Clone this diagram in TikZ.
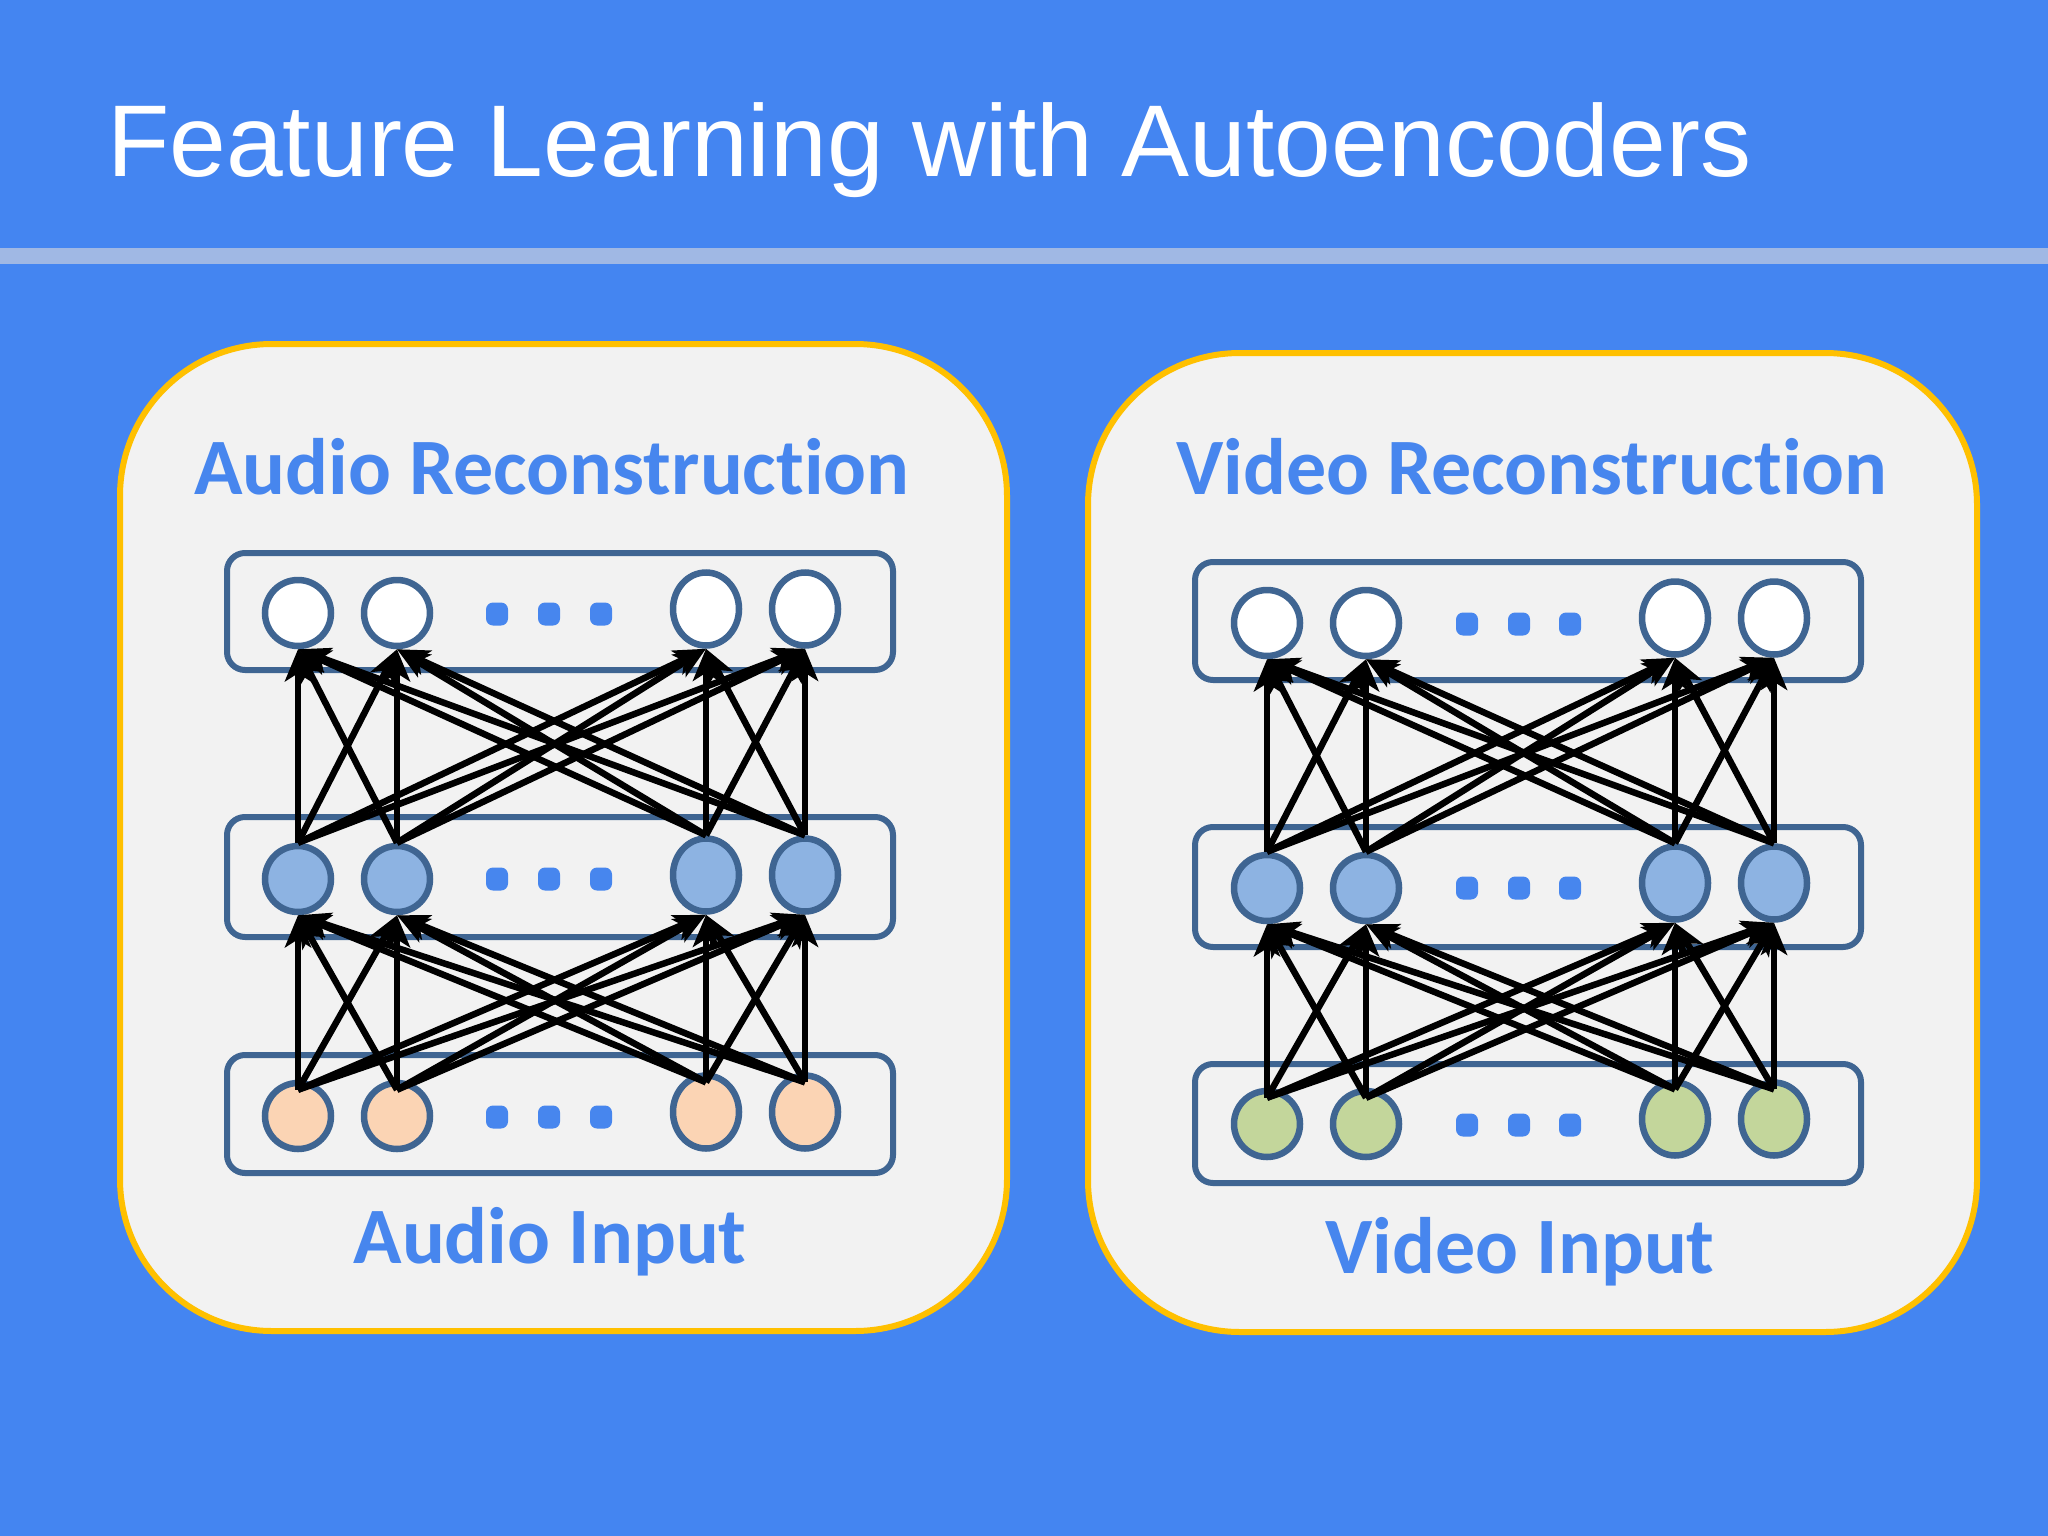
\documentclass[tikz,border=0pt]{standalone}
\usepackage{fontspec}
\usetikzlibrary{arrows.meta,shapes.geometric,calc}
\newfontfamily\titlefont{Liberation Sans}
\newfontfamily\labelfont[Ligatures=NoCommon]{Carlito}
\definecolor{bgblue}{HTML}{4485F1}
\definecolor{bandc}{HTML}{A0B8E4}
\definecolor{panelfill}{HTML}{F2F2F2}
\definecolor{panelline}{HTML}{FFC000}
\definecolor{boxline}{HTML}{3F6592}
\definecolor{txtblue}{HTML}{4786EE}
\definecolor{midfill}{HTML}{8DB3E2}
\definecolor{peach}{HTML}{FBD4B4}
\definecolor{lgreen}{HTML}{C3D69B}
\begin{document}
\begin{tikzpicture}[x=1pt,y=-1pt,
  titletext/.style={anchor=base west,inner sep=0pt,text=white,font=\titlefont\fontsize{102}{120}\selectfont},
  paneltext/.style={anchor=base,inner sep=0pt,text=txtblue,font=\labelfont\bfseries\fontsize{80}{95}\selectfont},
  panel/.style={fill=panelfill,draw=panelline,line width=6pt,rounded corners=152pt},
  layerbox/.style={draw=boxline,line width=6pt,rounded corners=18pt},
  unitA/.style={ellipse,draw=boxline,line width=6.5pt,minimum width=66pt,minimum height=66pt,inner sep=0pt},
  unitB/.style={ellipse,draw=boxline,line width=6.5pt,minimum width=66pt,minimum height=73pt,inner sep=0pt},
  dotbox/.style={fill=txtblue,rounded corners=7pt},
  arr/.style={-{Stealth[length=32pt,width=26pt,inset=8pt]},line width=6.5pt,black}
]
\useasboundingbox (0,0) rectangle (2048,1536);
\fill[bgblue] (0,0) rectangle (2048,1536);
\fill[bandc] (0,248) rectangle (2048,264);
\node[titletext] (title) at (107,176) {Feature Learning with Autoencoders};

% ---------- left panel (audio) ----------
\path[panel] (120,344) rectangle (1007,1331);
\node[paneltext] (ltitle) at (552,494) {Audio Reconstruction};
\node[paneltext] (linput) at (550,1263) {Audio Input};
\draw[layerbox] (227,553) rectangle (893,670);
\draw[layerbox] (227,817) rectangle (893,937);
\draw[layerbox] (227,1055) rectangle (893,1173);
\foreach \n/\x/\dy/\s in {1/298/0/unitA,2/397/0/unitA,3/706/-4/unitB,4/805/-4/unitB}{
  \node[\s,fill=white]   (Lt\n) at (\x,613+\dy) {};
  \node[\s,fill=midfill] (Lm\n) at (\x,879+\dy) {};
  \node[\s,fill=peach]   (Lb\n) at (\x,1116+\dy) {};
}
\foreach \x in {497,549,601}{
  \foreach \y in {614,879,1117}{
    \fill[dotbox] (\x-11,\y-11.5) rectangle ++(22,23);
  }
}
\foreach \i in {1,...,4}{
  \foreach \j in {1,...,4}{
    \draw[arr] ($(Lb\i.north)+(0,10)$) -- (Lm\j.south);
    \draw[arr] (Lm\i.north) -- (Lt\j.south);
  }
}

% ---------- right panel (video) ----------
\path[panel] (1088,353) rectangle (1977,1332);
\node[paneltext] (rtitle) at (1532,494) {Video Reconstruction};
\node[paneltext] (rinput) at (1520,1273) {Video Input};
\draw[layerbox] (1195,562) rectangle (1861,680);
\draw[layerbox] (1195,827) rectangle (1861,947);
\draw[layerbox] (1195,1064) rectangle (1861,1183);
\foreach \n/\x/\dy/\s in {1/1267/0/unitA,2/1366/0/unitA,3/1675/-5/unitB,4/1774/-5/unitB}{
  \node[\s,fill=white]   (Rt\n) at (\x,623+\dy) {};
  \node[\s,fill=midfill] (Rm\n) at (\x,888+\dy) {};
  \node[\s,fill=lgreen]  (Rb\n) at (\x,1124+\dy) {};
}
\foreach \x in {1467,1519,1570}{
  \foreach \y in {624,888,1125}{
    \fill[dotbox] (\x-11,\y-11.5) rectangle ++(22,23);
  }
}
\foreach \i in {1,...,4}{
  \foreach \j in {1,...,4}{
    \draw[arr] ($(Rb\i.north)+(0,10)$) -- (Rm\j.south);
    \draw[arr] (Rm\i.north) -- (Rt\j.south);
  }
}
\end{tikzpicture}
\end{document}
